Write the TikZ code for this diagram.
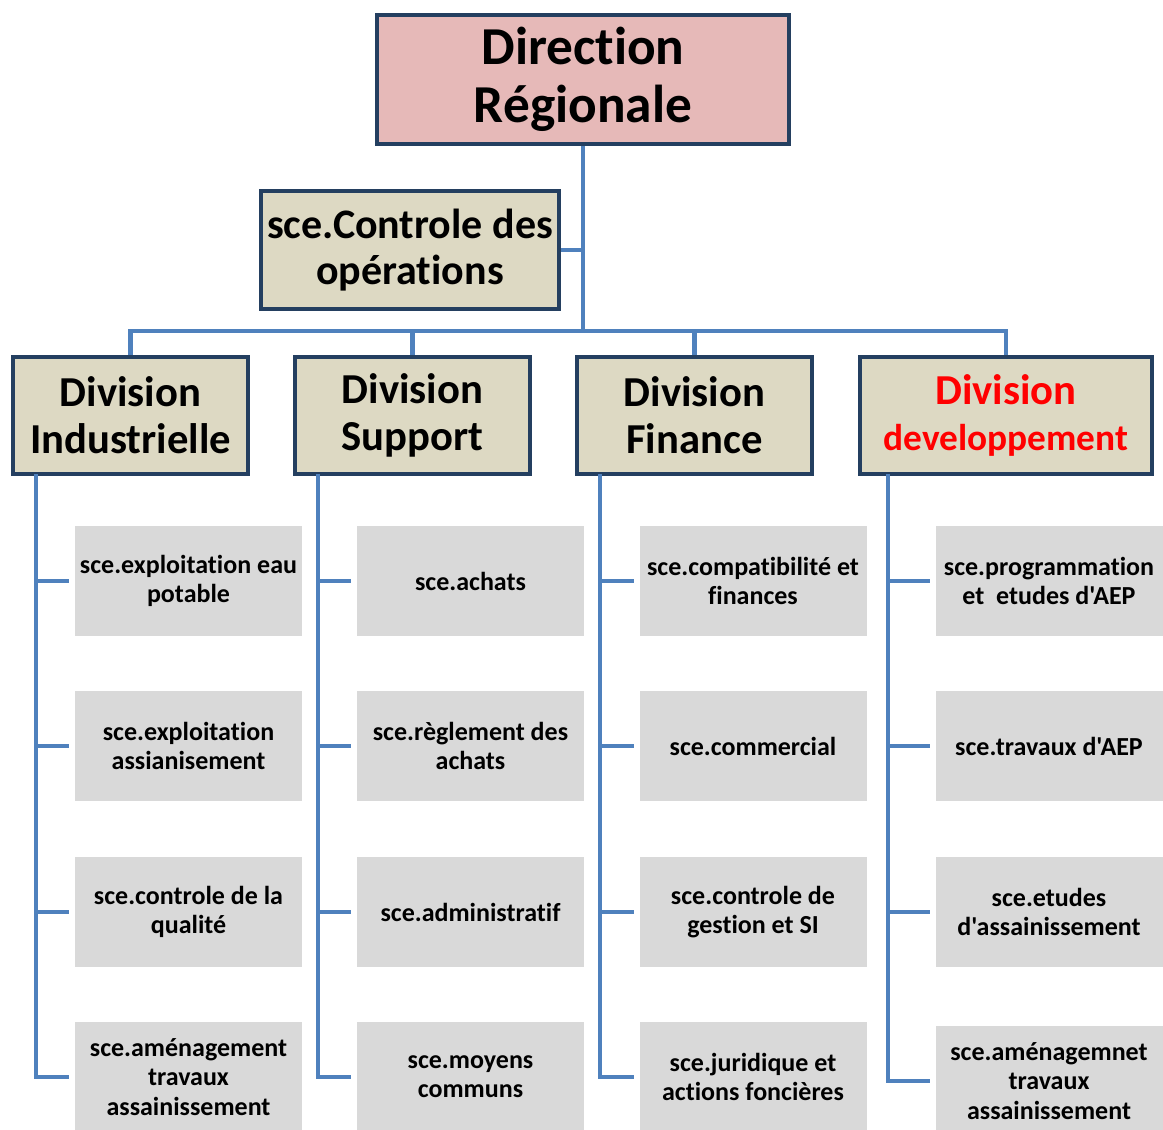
\documentclass[tikz,border=0pt]{standalone}
\usepackage{fontspec}
\setmainfont{Carlito}[Ligatures={TeXOff,NoCommon}]
\definecolor{conncol}{HTML}{4F81BD}
\definecolor{bordcol}{HTML}{243F60}
\definecolor{topfill}{HTML}{E6B9B8}
\definecolor{divfill}{HTML}{DDD9C3}
\definecolor{subfill}{HTML}{D9D9D9}
\definecolor{redtxt}{HTML}{FF0000}
\tikzset{
  conn/.style={draw=conncol, line width=3.3pt},
  topbox/.style={draw=bordcol, line width=3pt, fill=topfill, minimum width=309pt, minimum height=96.75pt, align=center, inner sep=0pt, font=\fontsize{40}{43.5}\selectfont\bfseries},
  divbox/.style={draw=bordcol, line width=3pt, fill=divfill, minimum width=176.25pt, minimum height=87.75pt, align=center, inner sep=0pt, font=\fontsize{32}{35}\selectfont\bfseries},
  subbox/.style={fill=subfill, minimum width=170.25pt, minimum height=82.5pt, align=center, inner sep=0pt, font=\fontsize{19.5}{22}\selectfont\bfseries},
}
\begin{document}
\begin{tikzpicture}[x=0.75pt,y=-0.75pt]
\useasboundingbox (0,0) rectangle (1163,1129);
\clip (0,0) rectangle (1163,1129);
% top
\node[topbox] (dr) at (583,79.5) {Direction\\Régionale};
\node[divbox, minimum width=223.5pt, minimum height=88.5pt, font=\fontsize{31.5}{35}\selectfont\bfseries] (ctl) at (410,250) {sce.Controle des\\opérations};
\node[divbox] (d1) at (130.5,415.5) {Division\\Industrielle};
\node[divbox] (d2) at (412.5,415.5) {Division\\Support};
\node[divbox] (d3) at (694.5,415.5) {Division\\Finance};
\node[divbox, minimum width=219pt, text=redtxt] (d4) at (1006,415.5) {Division\\{\fontsize{28}{34}\selectfont developpement}};
\coordinate (bus) at (583,331);
% sub boxes col1
\node[subbox] (a1) at (188.5,581) {sce.exploitation eau\\potable};
\node[subbox] (a2) at (188.5,746) {sce.exploitation\\assianisement};
\node[subbox] (a3) at (188.5,912) {sce.controle de la\\qualité};
\node[subbox] (a4) at (188.5,1077) {sce.aménagement\\travaux\\assainissement};
% col2
\node[subbox] (b1) at (470.5,581) {sce.achats};
\node[subbox] (b2) at (470.5,746) {sce.règlement des\\achats};
\node[subbox] (b3) at (470.5,912) {sce.administratif};
\node[subbox] (b4) at (470.5,1077) {sce.moyens\\communs};
% col3
\node[subbox] (c1) at (753,581) {sce.compatibilité et\\finances};
\node[subbox] (c2) at (753,746) {sce.commercial};
\node[subbox] (c3) at (753,912) {sce.controle de\\gestion et SI};
\node[subbox] (c4) at (753,1077) {sce.juridique et\\actions foncières};
% col4
\node[subbox] (e1) at (1049,581) {sce.programmation\\et\ \ etudes d'AEP};
\node[subbox] (e2) at (1049,746) {sce.travaux d'AEP};
\node[subbox] (e3) at (1049,912) {sce.etudes\\d'assainissement};
\node[subbox] (e4) at (1049,1081) {sce.aménagemnet\\travaux\\assainissement};
% connectors
\draw[conn] (dr.south) -- (bus);
\draw[conn] (ctl.east) -- (ctl.east -| bus);
\draw[conn, line cap=rect] (d1.north |- bus) -- (d4.north |- bus);
\foreach \d in {d1,d2,d3,d4} \draw[conn] (\d.north |- bus) -- (\d.north);
\foreach \d/\s/\off in {d1/a/25, d2/b/25, d3/c/25, d4/e/30}{
  \draw[conn] ([xshift=\off*0.75pt, yshift=1.5pt]\d.south west) |- ([xshift=-4pt]\s4.west);
  \foreach \r in {1,2,3}{
    \draw[conn] ([xshift=\off*0.75pt]\d.south west |- \s\r.west) -- ([xshift=-4pt]\s\r.west);
  }
}
\end{tikzpicture}
\end{document}
